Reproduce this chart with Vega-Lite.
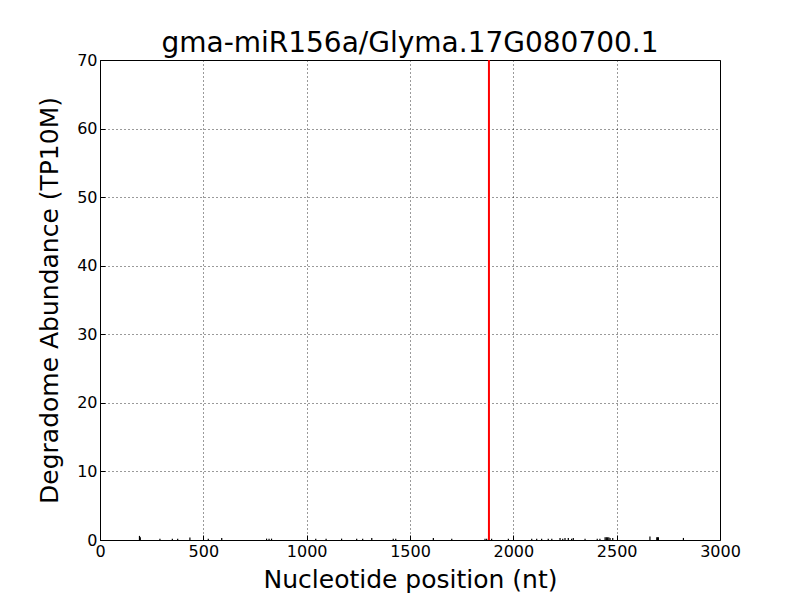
{
  "$schema": "https://vega.github.io/schema/vega-lite/v6.json",
  "width": 620,
  "height": 480,
  "autosize": {"type": "none"},
  "padding": {"left": 100, "top": 60, "right": 80, "bottom": 60},
  "background": "white",
  "title": {"text": "gma-miR156a/Glyma.17G080700.1", "font": "DejaVu Sans", "fontSize": 28, "fontWeight": "normal", "color": "black", "anchor": "middle", "offset": -6},
  "config": {
    "view": {"stroke": "black", "strokeWidth": 1},
    "axis": {
      "labelFont": "DejaVu Sans", "labelFontSize": 16, "labelColor": "black",
      "titleFont": "DejaVu Sans", "titleFontSize": 25, "titleFontWeight": "normal", "titleColor": "black",
      "grid": true, "gridColor": "black", "gridDash": [1, 3], "gridOpacity": 1, "gridWidth": 0.8,
      "domain": false, "tickColor": "black", "tickSize": -5, "labelPadding": 8, "format": "d",
      "labelFlush": false, "labelOverlap": false
    }
  },
  "datasets": {
    "reads": [
      {"pos": 191, "abundance": 0.6},
      {"pos": 195, "abundance": 0.4},
      {"pos": 290, "abundance": 0.2},
      {"pos": 350, "abundance": 0.2},
      {"pos": 376, "abundance": 0.2},
      {"pos": 435, "abundance": 0.35},
      {"pos": 524, "abundance": 0.2},
      {"pos": 589, "abundance": 0.3},
      {"pos": 806, "abundance": 0.2},
      {"pos": 818, "abundance": 0.2},
      {"pos": 830, "abundance": 0.2},
      {"pos": 1044, "abundance": 0.2},
      {"pos": 1094, "abundance": 0.2},
      {"pos": 1169, "abundance": 0.2},
      {"pos": 1242, "abundance": 0.2},
      {"pos": 1271, "abundance": 0.2},
      {"pos": 1315, "abundance": 0.3},
      {"pos": 1419, "abundance": 0.2},
      {"pos": 1431, "abundance": 0.2},
      {"pos": 1613, "abundance": 0.3},
      {"pos": 1702, "abundance": 0.2},
      {"pos": 1863, "abundance": 0.2},
      {"pos": 1871, "abundance": 0.2},
      {"pos": 1895, "abundance": 0.2},
      {"pos": 1976, "abundance": 0.2},
      {"pos": 2089, "abundance": 0.2},
      {"pos": 2113, "abundance": 0.2},
      {"pos": 2137, "abundance": 0.2},
      {"pos": 2169, "abundance": 0.2},
      {"pos": 2186, "abundance": 0.2},
      {"pos": 2226, "abundance": 0.3},
      {"pos": 2239, "abundance": 0.2},
      {"pos": 2250, "abundance": 0.3},
      {"pos": 2266, "abundance": 0.3},
      {"pos": 2282, "abundance": 0.2},
      {"pos": 2290, "abundance": 0.3},
      {"pos": 2347, "abundance": 0.2},
      {"pos": 2406, "abundance": 0.2},
      {"pos": 2419, "abundance": 0.2},
      {"pos": 2444, "abundance": 0.4},
      {"pos": 2450, "abundance": 0.4},
      {"pos": 2455, "abundance": 0.4},
      {"pos": 2462, "abundance": 0.4},
      {"pos": 2468, "abundance": 0.3},
      {"pos": 2481, "abundance": 0.3},
      {"pos": 2661, "abundance": 0.5},
      {"pos": 2694, "abundance": 0.4},
      {"pos": 2698, "abundance": 0.4},
      {"pos": 2702, "abundance": 0.4},
      {"pos": 2823, "abundance": 0.3}
    ],
    "cleavage": [{"pos": 1882}]
  },
  "layer": [
    {
      "data": {"name": "reads"},
      "mark": {"type": "rule", "color": "black", "strokeWidth": 1.2},
      "encoding": {
        "x": {"field": "pos", "type": "quantitative", "scale": {"domain": [0, 3000], "nice": false},
              "axis": {"title": "Nucleotide position (nt)", "values": [0, 500, 1000, 1500, 2000, 2500, 3000], "titlePadding": 8}},
        "y": {"field": "abundance", "type": "quantitative", "scale": {"domain": [0, 70], "nice": false},
              "axis": {"title": "Degradome Abundance (TP10M)", "values": [0, 10, 20, 30, 40, 50, 60, 70], "titlePadding": 14}},
        "y2": {"datum": 0}
      }
    },
    {
      "data": {"name": "cleavage"},
      "mark": {"type": "rule", "color": "#ff0000", "strokeWidth": 2},
      "encoding": {
        "x": {"field": "pos", "type": "quantitative"}
      }
    }
  ]
}
